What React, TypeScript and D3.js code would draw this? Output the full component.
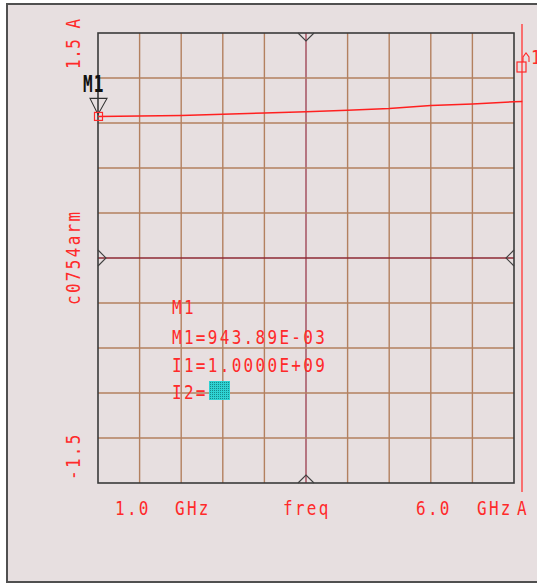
import React from 'react';
import * as d3 from 'd3';

// trace data (freq in GHz, magnitude in A)
const freqGHz = [1.0, 1.5, 2.0, 2.5, 3.0, 3.5, 4.0, 4.5, 5.0, 5.5, 6.0, 6.1];
const c0754arm = [0.944, 0.947, 0.95, 0.958, 0.967, 0.975, 0.985, 0.997, 1.017, 1.027, 1.042, 1.043];

const xTicks = [1.0, 1.5, 2.0, 2.5, 3.0, 3.5, 4.0, 4.5, 5.0, 5.5, 6.0];
const yTicks = [-1.5, -1.2, -0.9, -0.6, -0.3, 0, 0.3, 0.6, 0.9, 1.2, 1.5];

const markerFreq = 1.0;
const markerVal = 0.94389;
const markerLines = ['M1', 'M1=943.89E-03', 'I1=1.0000E+09', 'I2='];

const RED = '#ff2a2a';
const GRID = '#b3805f';
const BG = '#e7dfe0';

function VText({ x, y, children, rot = false, ls = 2.3, fill = RED, weight = 'normal', sy = 1.25 }: any) {
  return (
    <g transform={`translate(${x},${y})${rot ? ' rotate(-90)' : ''} scale(1,${sy})`}>
      <text fontFamily="DejaVu Sans Mono" fontSize={16} letterSpacing={ls} fill={fill} fontWeight={weight}>
        {children}
      </text>
    </g>
  );
}

export default function App() {
  const x = d3.scaleLinear().domain([1, 6]).range([98, 514]);
  const y = d3.scaleLinear().domain([-1.5, 1.5]).range([483, 33]);

  const pts = freqGHz.map((f, i) => [f, c0754arm[i]] as [number, number]);
  const line = d3
    .line<[number, number]>()
    .x((d) => x(d[0]))
    .y((d) => y(d[1]));

  const x0 = x(1), x1 = x(6), y0 = y(-1.5), y1 = y(1.5);
  const xc = x(3.5), yc = y(0);
  const mx = x(markerFreq), my = y(markerVal);
  const ch = 8;

  return (
    <svg width={537} height={584} style={{ position: 'absolute', left: 0, top: 0 }}>
      <defs>
        <pattern id="dots" width="2" height="2" patternUnits="userSpaceOnUse">
          <rect width="2" height="2" fill="#2ed2d2" />
          <rect width="1" height="1" fill="#178a8a" />
        </pattern>
      </defs>
      <rect x={0} y={0} width={537} height={584} fill="#ffffff" />
      <rect x={7} y={4} width={545} height={578} fill={BG} stroke="#505050" strokeWidth={2} />

      {/* grid */}
      {xTicks.slice(1, -1).map((t) => (
        <line key={'gx' + t} x1={x(t)} x2={x(t)} y1={y1} y2={y0}
          stroke={t === 3.5 ? '#a04858' : GRID} strokeWidth={1.4} />
      ))}
      {yTicks.slice(1, -1).map((t) => (
        <line key={'gy' + t} x1={x0} x2={x1} y1={y(t)} y2={y(t)}
          stroke={t === 0 ? '#8e2a34' : GRID} strokeWidth={1.4} />
      ))}

      {/* plot border */}
      <rect x={x0} y={y1} width={x1 - x0} height={y0 - y1} fill="none" stroke="#3a3a3a" strokeWidth={1.6} />

      {/* centre chevrons */}
      <g fill="none" stroke="#404040" strokeWidth={1.1}>
        <path d={`M${xc - ch},${y1} L${xc},${y1 + ch} L${xc + ch},${y1}`} />
        <path d={`M${xc - ch},${y0} L${xc},${y0 - ch} L${xc + ch},${y0}`} />
        <path d={`M${x0},${yc - ch} L${x0 + ch},${yc} L${x0},${yc + ch}`} />
        <path d={`M${x1},${yc - ch} L${x1 - ch},${yc} L${x1},${yc + ch}`} />
      </g>

      {/* right-hand A axis */}
      <line x1={522} x2={522} y1={24} y2={492} stroke="#ff4a4a" strokeWidth={1.5} />
      <rect x={517} y={62} width={9} height={10} fill="none" stroke={RED} strokeWidth={1.2} />
      <path d="M523,62 L523,57 L526,53 L529,57 L529,62" fill="none" stroke={RED} strokeWidth={1.1} />
      <VText x={531} y={64} ls={0}>1</VText>

      {/* trace */}
      <path d={line(pts) || ''} fill="none" stroke="#ff2020" strokeWidth={1.5} />

      {/* marker M1 */}
      <path d={`M${mx - 8},${my - 18} L${mx + 9},${my - 18} L${mx},${my - 2} Z`} fill="none" stroke="#303030" strokeWidth={1.1} />
      <rect x={mx - 3.5} y={my - 4} width={8} height={8} fill="none" stroke={RED} strokeWidth={1.2} />
      <VText x={83} y={92} fill="#111" weight="bold" ls={1} sy={1.4}>M1</VText>

      {/* axis labels */}
      <VText x={80} y={69} rot ls={0.5}>1.5 A</VText>
      <VText x={80} y={305} rot>c0754arm</VText>
      <VText x={80} y={480} rot>-1.5</VText>
      <VText x={115} y={515}>1.0</VText>
      <VText x={175} y={515}>GHz</VText>
      <VText x={283} y={515}>freq</VText>
      <VText x={416} y={515}>6.0</VText>
      <VText x={477} y={515}>GHz</VText>
      <VText x={517} y={515}>A</VText>

      {/* marker readout */}
      {markerLines.map((s, i) => (
        <VText key={s} x={172} y={[314, 344, 372, 399][i]}>{s}</VText>
      ))}
      <rect x={209} y={381} width={21} height={19} fill="url(#dots)" />
    </svg>
  );
}
